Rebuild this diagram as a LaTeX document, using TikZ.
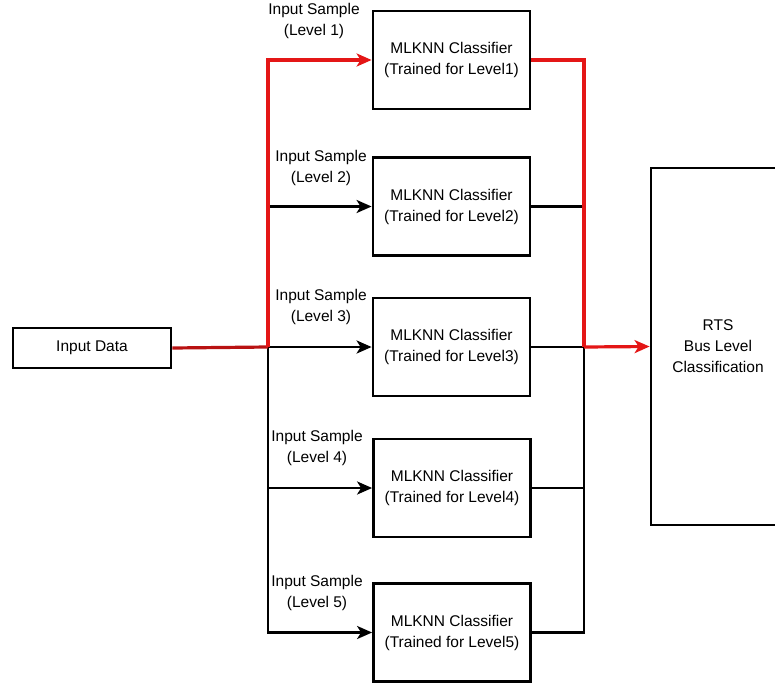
\documentclass[tikz,border=0pt]{standalone}
\usepackage{fontspec}
\setmainfont{Liberation Sans}
\usetikzlibrary{arrows.meta}
\definecolor{wire}{RGB}{228,22,22}
\definecolor{feed}{RGB}{185,18,18}
\begin{document}
\begin{tikzpicture}[x=1pt,y=-1pt,
  txt/.style={font=\fontsize{15.5}{21}\selectfont,align=center,inner sep=0pt},
  frame/.style={draw,line width=2.8pt},
  box/.style={txt,frame,minimum width=157pt,minimum height=98pt},
  lbl/.style={txt},
  link/.style={line width=2.6pt,black},
  hot/.style={line width=3.2pt,wire},
  tip/.style={-{Stealth[length=15pt,width=13pt,inset=4pt]}}
]
\useasboundingbox (0,0) rectangle (775,685);

% blocks
\node[txt,frame,minimum width=158pt,minimum height=40pt] (in) at (92,348) {Input Data};
\node[box] (c1) at (451.5,60)  {MLKNN Classifier\\(Trained for Level1)};
\node[box] (c2) at (451.5,206.5) {MLKNN Classifier\\(Trained for Level2)};
\node[box] (c3) at (451.5,347) {MLKNN Classifier\\(Trained for Level3)};
\node[box] (c4) at (452,488)   {MLKNN Classifier\\(Trained for Level4)};
\node[box] (c5) at (452,632.5) {MLKNN Classifier\\(Trained for Level5)};
\node[txt,frame,minimum width=134pt,minimum height=357pt] (rts) at (718,346.5) {RTS\\Bus Level\\Classification};

% branch labels
\node[lbl] (l1) at (314,21)  {Input Sample\\(Level 1)};
\node[lbl] (l2) at (321,168) {Input Sample\\(Level 2)};
\node[lbl] (l3) at (321,307) {Input Sample\\(Level 3)};
\node[lbl] (l4) at (317,448) {Input Sample\\(Level 4)};
\node[lbl] (l5) at (317,593) {Input Sample\\(Level 5)};

% split and merge points
\coordinate (split) at (268,347);
\coordinate (merge) at (584,347);

% black fan-out
\draw[link,tip] (split) |- (c5.west);
\draw[link,tip] (split) -- (c3.west);
\draw[link,tip] (split |- c2.west) -- (c2.west);
\draw[link,tip] (split |- c4.west) -- (c4.west);

% black fan-in
\draw[link] (c5.east) -| (merge);
\draw[link] (c4.east) -- (merge |- c4.east);
\draw[link] (c3.east) -- (merge);
\draw[link] (c2.east) -- (merge |- c2.east);

% highlighted path
\draw[line width=3.2pt,feed] (in.east) -- (split);
\draw[hot,tip] (split) |- (c1.west);
\draw[hot] (c1.east) -| (merge);
\draw[hot,tip] (merge) -- (rts.west);
\end{tikzpicture}
\end{document}
